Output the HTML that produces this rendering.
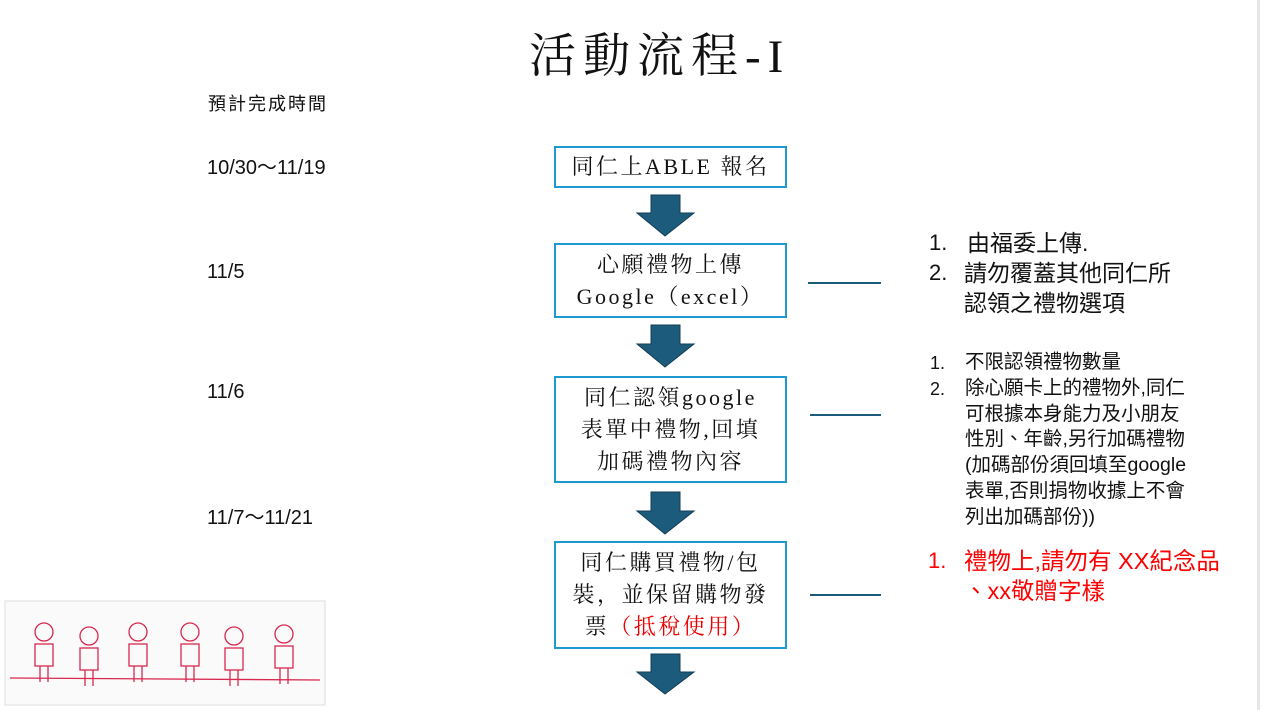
<!DOCTYPE html>
<html><head><meta charset="utf-8"><style>
body{margin:0;width:1265px;height:710px;background:#fff;position:relative;overflow:hidden}
.a{position:absolute;white-space:nowrap}
.s{font-family:"Liberation Sans","Noto Sans CJK TC",sans-serif;color:#111}
.sf{font-family:"Liberation Serif","Noto Serif CJK SC",serif;color:#111}
.box{position:absolute;left:554px;width:233px;border:2.5px solid #1e9ad0;box-sizing:border-box;display:flex;align-items:center;justify-content:center}
.box div{text-align:center;font-family:"Liberation Serif","Noto Serif CJK SC",serif;font-size:22px;line-height:32px;letter-spacing:2.5px;color:#111;white-space:nowrap}
.ln{position:absolute;height:2px;background:#1d5b7c}
.li{position:absolute;font-family:"Liberation Sans","Noto Sans CJK TC",sans-serif;color:#111;white-space:nowrap}
</style></head><body>
<div style="position:absolute;left:1257px;top:0;width:3px;height:710px;background:#e6e6e6"></div>
<div class="a sf" style="left:529px;top:27px;font-size:47px;line-height:60px;letter-spacing:7px">活動流程-I</div>
<div class="a s" style="left:208px;top:90px;font-size:18px;letter-spacing:2px">預計完成時間</div>
<div class="a s" style="left:207px;top:151px;font-size:20px">10/30～11/19</div>
<div class="a s" style="left:207px;top:261px;font-size:20px">11/5</div>
<div class="a s" style="left:207px;top:381px;font-size:20px">11/6</div>
<div class="a s" style="left:207px;top:501px;font-size:20px">11/7～11/21</div>

<div class="box" style="top:146px;height:42px"><div>同仁上ABLE 報名</div></div>
<div class="box" style="top:243px;height:75px"><div>心願禮物上傳<br>Google（excel）</div></div>
<div class="box" style="top:376px;height:107px"><div>同仁認領google<br>表單中禮物,回填<br>加碼禮物內容</div></div>
<div class="box" style="top:541px;height:108px"><div>同仁購買禮物/包<br>裝，並保留購物發<br>票<span style="color:#e00">（抵稅使用）</span></div></div>

<svg style="position:absolute;left:0;top:0" width="1265" height="710">
<g fill="#1d5b7c" stroke="#123d55" stroke-width="1">
<polygon points="651,195 680,195 680,213 694,213 665,236 637,213 651,213"/>
<polygon points="651,325 680,325 680,344 694,344 665,367 637,344 651,344"/>
<polygon points="651,492 680,492 680,511 694,511 665,534 637,511 651,511"/>
<polygon points="651,654 680,654 680,672 694,672 665,694 637,672 651,672"/>
</g>
<rect x="5" y="601" width="320" height="104" fill="#fafafa" stroke="#ddd"/>
<g stroke="#d8284f" stroke-width="1.3" fill="none">
<line x1="10" y1="678" x2="320" y2="680"/>
<g id="k"><circle cx="44" cy="632" r="9"/><rect x="35" y="644" width="18" height="22"/><line x1="40" y1="666" x2="40" y2="682"/><line x1="48" y1="666" x2="48" y2="682"/></g>
<use href="#k" x="45" y="4"/><use href="#k" x="94" y="0"/><use href="#k" x="146" y="0"/><use href="#k" x="190" y="4"/><use href="#k" x="240" y="2"/>
</g>
</svg>
<div class="ln" style="left:808px;top:282px;width:73px"></div>
<div class="ln" style="left:810px;top:414px;width:71px"></div>
<div class="ln" style="left:810px;top:594px;width:71px"></div>

<div class="li" style="left:929px;top:228px;font-size:22px;line-height:30px">1.</div>
<div class="li" style="left:967px;top:228px;font-size:23px;line-height:30px">由福委上傳.</div>
<div class="li" style="left:929px;top:258px;font-size:22px;line-height:30px">2.</div>
<div class="li" style="left:964px;top:258px;font-size:23px;line-height:30px">請勿覆蓋其他同仁所<br>認領之禮物選項</div>

<div class="li" style="left:930px;top:350px;font-size:18px;line-height:26px">1.<br>2.</div>
<div class="li" style="left:965px;top:350px;font-size:19.5px;line-height:25.8px">不限認領禮物數量<br>除心願卡上的禮物外,同仁<br>可根據本身能力及小朋友<br>性別、年齡,另行加碼禮物<br>(加碼部份須回填至google<br>表單,否則捐物收據上不會<br>列出加碼部份))</div>

<div class="li" style="left:928px;top:546px;font-size:22px;line-height:30px;color:#f00">1.</div>
<div class="li" style="left:964px;top:546px;font-size:23.5px;line-height:30px;color:#f00">禮物上,請勿有 XX紀念品<br>、xx敬贈字樣</div>
</body></html>
